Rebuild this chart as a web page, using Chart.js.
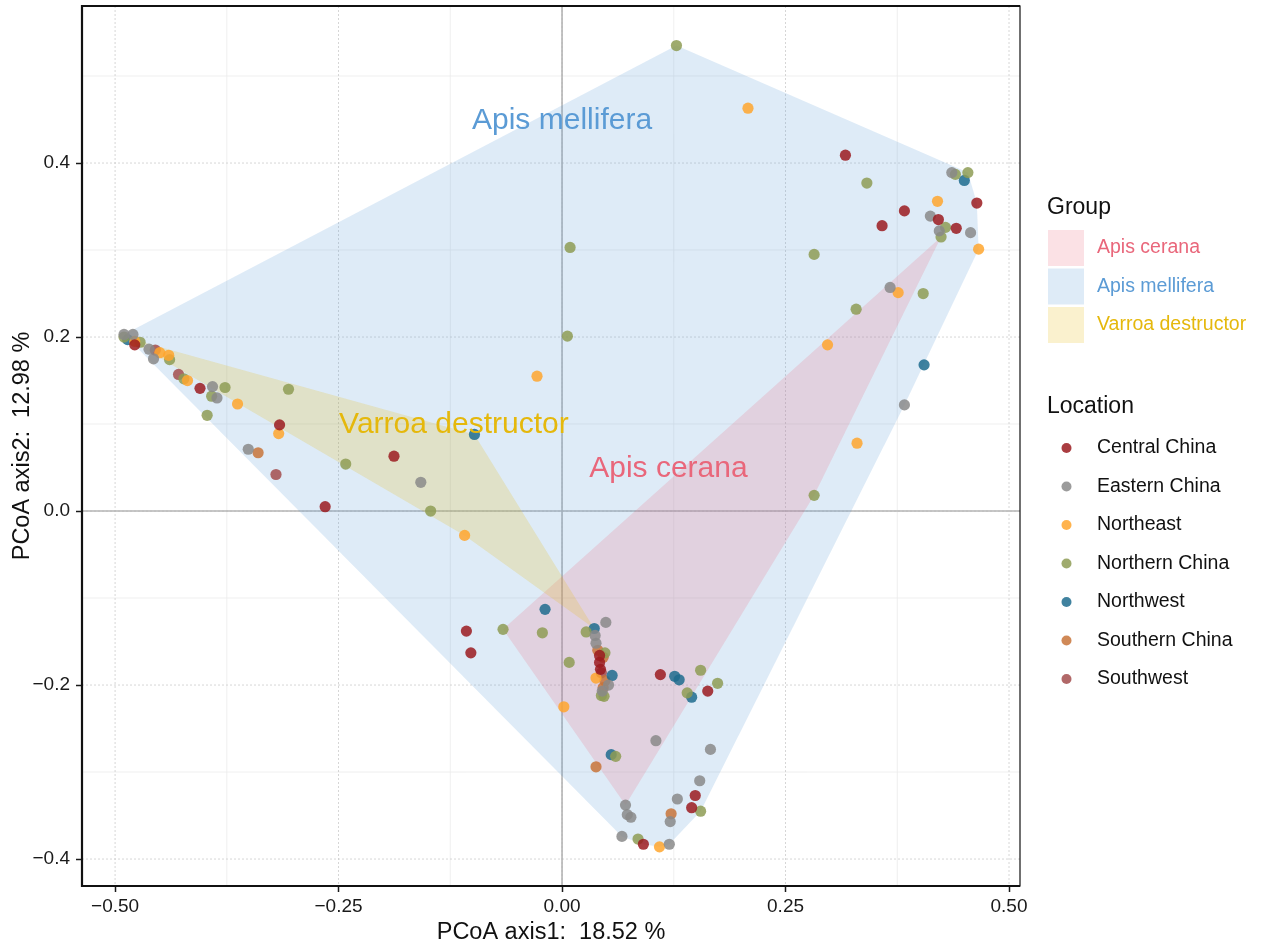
<!DOCTYPE html>
<html>
<head>
<meta charset="utf-8">
<script src="https://cdn.jsdelivr.net/npm/chart.js@4.4.1/dist/chart.umd.min.js"></script>
<style>
  html, body { margin: 0; background: #fff; }
  #wrap { width: 1263px; height: 949px; position: relative; }
</style>
</head>
<body>
<div id="wrap"><canvas id="pcoa"></canvas></div>
<script>
// ---- data ----
const xTicks = [-0.5, -0.25, 0, 0.25, 0.5];
const yTicks = [-0.4, -0.2, 0, 0.2, 0.4];

const locations = ['Central China', 'Eastern China', 'Northeast', 'Northern China', 'Northwest', 'Southern China', 'Southwest'];
const locationColors = ['#9b1b20', '#8a8a8a', '#ffa62e', '#8e9c55', '#1e6c8e', '#c8743a', '#a34e4d'];

const centralChina = [[-0.478,0.191],[-0.405,0.141],[-0.316,0.099],[-0.265,0.005],[-0.188,0.063],[-0.107,-0.138],[-0.102,-0.163],
  [0.042,-0.174],[0.043,-0.182],[0.042,-0.166],[0.110,-0.188],[0.163,-0.207],[0.149,-0.327],[0.145,-0.341],[0.091,-0.383],
  [0.317,0.409],[0.464,0.354],[0.383,0.345],[0.421,0.335],[0.358,0.328],[0.441,0.325]];
const easternChina = [[-0.490,0.203],[-0.480,0.203],[-0.462,0.186],[-0.457,0.175],[-0.391,0.143],[-0.386,0.130],[-0.351,0.071],
  [-0.158,0.033],[0.049,-0.128],[0.037,-0.143],[0.038,-0.152],[0.052,-0.200],[0.045,-0.207],[0.105,-0.264],[0.166,-0.274],
  [0.154,-0.310],[0.129,-0.331],[0.071,-0.338],[0.073,-0.349],[0.077,-0.352],[0.121,-0.357],[0.067,-0.374],[0.120,-0.383],
  [0.436,0.389],[0.412,0.339],[0.422,0.322],[0.457,0.320],[0.367,0.257],[0.383,0.122]];
const northeast = [[-0.478,0.195],[-0.450,0.182],[-0.440,0.179],[-0.419,0.150],[-0.363,0.123],[-0.317,0.089],[-0.109,-0.028],
  [-0.028,0.155],[0.038,-0.192],[0.002,-0.225],[0.109,-0.386],[0.208,0.463],[0.420,0.356],[0.466,0.301],[0.376,0.251],
  [0.297,0.191],[0.330,0.078]];
const northernChina = [[-0.490,0.200],[-0.472,0.194],[-0.439,0.174],[-0.423,0.152],[-0.377,0.142],[-0.392,0.132],[-0.397,0.110],
  [-0.306,0.140],[-0.242,0.054],[-0.147,0.000],[0.128,0.535],[0.009,0.303],[0.006,0.201],[0.341,0.377],[0.440,0.387],
  [0.454,0.389],[0.429,0.326],[0.424,0.315],[0.282,0.295],[0.404,0.250],[0.329,0.232],[0.282,0.018],[-0.066,-0.136],
  [-0.022,-0.140],[0.027,-0.139],[0.008,-0.174],[0.048,-0.163],[0.047,-0.213],[0.044,-0.212],[0.155,-0.183],[0.174,-0.198],
  [0.140,-0.209],[0.060,-0.282],[0.155,-0.345],[0.085,-0.377]];
const northwest = [[-0.486,0.197],[-0.098,0.088],[-0.019,-0.113],[0.036,-0.135],[0.056,-0.189],[0.126,-0.190],[0.131,-0.194],
  [0.145,-0.214],[0.055,-0.280],[0.450,0.380],[0.405,0.168]];
const southernChina = [[-0.340,0.067],[0.040,-0.160],[0.046,-0.168],[0.048,-0.195],[0.046,-0.203],[0.038,-0.294],[0.122,-0.348]];
const southwest = [[-0.455,0.185],[-0.429,0.157],[-0.320,0.042],[0.044,-0.186]];

const locationPoints = [centralChina, easternChina, northeast, northernChina, northwest, southernChina, southwest];

// hull outlines (vertices of each group's polygon)
const groups = ['Apis cerana', 'Apis mellifera', 'Varroa destructor'];
const groupColors = ['#e9677b', '#5b9bd5', '#e5b80c'];
const apisCeranaHull = [[0.424,0.315],[0.282,0.018],[0.071,-0.338],[-0.066,-0.136]];
const apisMelliferaHull = [[-0.490,0.203],[0.128,0.535],[0.454,0.389],[0.464,0.354],[0.466,0.301],[0.383,0.122],
  [0.155,-0.345],[0.120,-0.383],[0.109,-0.386],[0.091,-0.383],[0.067,-0.374]];
const varroaHull = [[-0.490,0.200],[-0.098,0.088],[0.036,-0.135],[-0.109,-0.028]];
const groupHulls = [apisCeranaHull, apisMelliferaHull, varroaHull];
// where the group names sit inside the plot
const groupLabelPos = [[0.119,0.049],[0.0,0.449],[-0.121,0.099]];

// ---- helpers ----
const FONT = '"Liberation Sans", Arial, Helvetica, sans-serif';
const toXY = arr => arr.map(p => ({x: p[0], y: p[1]}));
const closed = arr => arr.concat([arr[0]]);
const fmt = (v, d) => (v < 0 ? '\u2212' : '') + Math.abs(v).toFixed(d);
function alpha(hex, a) {
  const n = parseInt(hex.slice(1), 16);
  return `rgba(${n >> 16},${(n >> 8) & 255},${n & 255},${a})`;
}

const hullSets = groups.map((g, i) => ({
  type: 'line',
  label: g,
  data: toXY(closed(groupHulls[i])),
  fill: 'shape',
  backgroundColor: alpha(groupColors[i], 0.2),
  borderColor: 'rgba(0,0,0,0)',
  borderWidth: 0,
  pointRadius: 0,
  tension: 0,
  order: i === 1 ? 3 : (i === 0 ? 2 : 1)
}));

const pointSets = locations.map((loc, i) => ({
  type: 'scatter',
  label: loc,
  data: toXY(locationPoints[i]),
  backgroundColor: alpha(locationColors[i], 0.85),
  borderWidth: 0,
  pointRadius: 5.6,
  pointHoverRadius: 5.6,
  order: 0
}));

function minorsOf(ticks, lo, hi) {
  const step = ticks[1] - ticks[0];
  const out = [];
  for (let i = -1; i < ticks.length; i++) {
    const v = ticks[0] + (i + 0.5) * step;
    if (v > lo && v < hi) out.push(v);
  }
  return out;
}

const panelPlugin = {
  id: 'panel',
  beforeDatasetsDraw(chart) {
    const {ctx, chartArea: a, scales: {x, y}} = chart;
    ctx.save();
    ctx.beginPath();
    ctx.rect(a.left, a.top, a.right - a.left, a.bottom - a.top);
    ctx.clip();
    // minor grid
    ctx.strokeStyle = '#ebebeb';
    ctx.lineWidth = 0.8;
    minorsOf(xTicks, x.min, x.max).forEach(v => {
      const px = x.getPixelForValue(v);
      ctx.beginPath(); ctx.moveTo(px, a.top); ctx.lineTo(px, a.bottom); ctx.stroke();
    });
    minorsOf(yTicks, y.min, y.max).forEach(v => {
      const py = y.getPixelForValue(v);
      ctx.beginPath(); ctx.moveTo(a.left, py); ctx.lineTo(a.right, py); ctx.stroke();
    });
    // major grid (dotted)
    ctx.strokeStyle = '#cccccc';
    ctx.setLineDash([2, 2]);
    xTicks.forEach(v => {
      const px = x.getPixelForValue(v);
      ctx.beginPath(); ctx.moveTo(px, a.top); ctx.lineTo(px, a.bottom); ctx.stroke();
    });
    yTicks.forEach(v => {
      const py = y.getPixelForValue(v);
      ctx.beginPath(); ctx.moveTo(a.left, py); ctx.lineTo(a.right, py); ctx.stroke();
    });
    ctx.setLineDash([]);
    // zero lines
    ctx.strokeStyle = '#b4b4b4';
    ctx.lineWidth = 1.6;
    const x0 = x.getPixelForValue(0), y0 = y.getPixelForValue(0);
    ctx.beginPath(); ctx.moveTo(x0, a.top); ctx.lineTo(x0, a.bottom); ctx.stroke();
    ctx.beginPath(); ctx.moveTo(a.left, y0); ctx.lineTo(a.right, y0); ctx.stroke();
    ctx.restore();
  },
  afterDatasetsDraw(chart) {
    const {ctx, chartArea: a, scales: {x, y}} = chart;
    ctx.save();
    // group names in the panel
    ctx.font = '30px ' + FONT;
    ctx.textAlign = 'center';
    ctx.textBaseline = 'middle';
    groups.forEach((g, i) => {
      ctx.fillStyle = groupColors[i];
      ctx.fillText(g, x.getPixelForValue(groupLabelPos[i][0]), y.getPixelForValue(groupLabelPos[i][1]));
    });
    // panel border
    ctx.strokeStyle = '#111';
    ctx.lineWidth = 1.2;
    ctx.strokeRect(a.left, a.top, a.right - a.left, a.bottom - a.top);
    ctx.lineWidth = 2.2;
    ctx.beginPath();
    ctx.moveTo(a.right, a.top); ctx.lineTo(a.left, a.top);
    ctx.lineTo(a.left, a.bottom); ctx.lineTo(a.right, a.bottom);
    ctx.stroke();
    ctx.restore();
  },
  afterDraw(chart) {
    const {ctx, chartArea: a} = chart;
    ctx.save();
    ctx.fillStyle = '#111';
    ctx.font = '23.5px ' + FONT;
    ctx.textAlign = 'center';
    ctx.textBaseline = 'middle';
    ctx.fillText('PCoA axis1:  18.52 %', (a.left + a.right) / 2, 933);
    ctx.save();
    ctx.translate(23, (a.top + a.bottom) / 2);
    ctx.rotate(-Math.PI / 2);
    ctx.fillText('PCoA axis2:  12.98 %', 0, 0);
    ctx.restore();

    // legend: Group
    ctx.textAlign = 'left';
    ctx.font = '23px ' + FONT;
    ctx.fillStyle = '#111';
    ctx.fillText('Group', 1047, 208);
    ctx.font = '19.5px ' + FONT;
    groups.forEach((g, i) => {
      const top = 230 + i * 38.5;
      ctx.fillStyle = alpha(groupColors[i], 0.2);
      ctx.fillRect(1048, top, 36, 36);
      ctx.fillStyle = groupColors[i];
      ctx.fillText(g, 1097, top + 18);
    });
    // legend: Location
    ctx.font = '23px ' + FONT;
    ctx.fillStyle = '#111';
    ctx.fillText('Location', 1047, 407);
    ctx.font = '19.5px ' + FONT;
    locations.forEach((loc, i) => {
      const cy = 448 + i * 38.5;
      ctx.fillStyle = alpha(locationColors[i], 0.85);
      ctx.beginPath(); ctx.arc(1066.5, cy, 5, 0, Math.PI * 2); ctx.fill();
      ctx.fillStyle = '#111';
      ctx.fillText(loc, 1097, cy);
    });
    ctx.restore();
  }
};

const tickFont = {family: FONT, size: 19};

new Chart(document.getElementById('pcoa'), {
  type: 'scatter',
  data: { datasets: pointSets.concat(hullSets) },
  options: {
    responsive: true,
    maintainAspectRatio: false,
    animation: false,
    layout: { padding: { top: 6, right: 243, bottom: 0, left: 0 } },
    plugins: {
      legend: { display: false },
      tooltip: { enabled: false }
    },
    scales: {
      x: {
        type: 'linear',
        min: -0.537,
        max: 0.5123,
        afterBuildTicks: s => { s.ticks = xTicks.map(v => ({value: v})); },
        afterFit: s => { s.height = 63; s.paddingLeft = 0; s.paddingRight = 0; },
        ticks: { callback: v => fmt(v, 2), font: tickFont, color: '#1a1a1a', padding: 3, maxRotation: 0, autoSkip: false },
        grid: { drawOnChartArea: false, drawTicks: true, tickLength: 6, tickColor: '#1a1a1a', tickWidth: 1.5 },
        border: { display: false }
      },
      y: {
        type: 'linear',
        min: -0.431,
        max: 0.5805,
        afterBuildTicks: s => { s.ticks = yTicks.map(v => ({value: v})); },
        afterFit: s => { s.width = 82; s.paddingTop = 0; s.paddingBottom = 0; },
        ticks: { callback: v => fmt(v, 1), font: tickFont, color: '#1a1a1a', padding: 6, autoSkip: false },
        grid: { drawOnChartArea: false, drawTicks: true, tickLength: 6, tickColor: '#1a1a1a', tickWidth: 1.5 },
        border: { display: false }
      }
    }
  },
  plugins: [panelPlugin]
});
</script>
</body>
</html>
